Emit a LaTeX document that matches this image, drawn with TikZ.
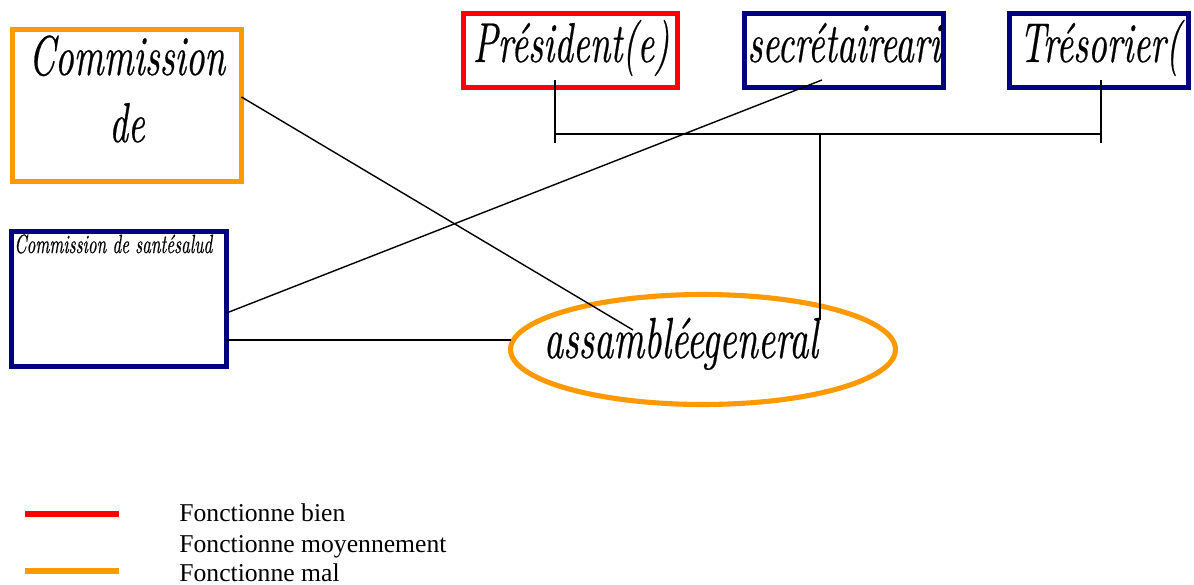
\documentclass[tikz,border=0pt]{standalone}
\usepackage{fontspec}
\setmainfont{Liberation Serif}
\newfontfamily\hand{lmroman10-italic.otf}[FakeStretch=0.65,FakeBold=0.4]
\usepackage{tikz}
\usetikzlibrary{calc,shapes.geometric}
\definecolor{orga}{RGB}{255,153,0}
\definecolor{navy}{RGB}{0,0,128}
\tikzset{
  box/.style={draw=#1, line width=2.9pt, inner sep=0pt, outer sep=0pt},
  conn/.style={line width=0.8pt},
  leg/.style={draw=#1, line width=3.2pt},
  big/.style={anchor=base, inner sep=0pt, font=\hand\fontsize{32}{38}\selectfont},
  legtext/.style={anchor=base west, inner sep=0pt, font=\fontsize{14.6}{17}\selectfont},
}

\begin{document}
\begin{tikzpicture}[x=0.02cm, y=-0.02cm]
\useasboundingbox (0,0) rectangle (1194,585);
% boxes
\node[box=orga, minimum width=4.58cm, minimum height=3.04cm] (com1) at (127,105.5) {};
\node[box=navy, minimum width=4.30cm, minimum height=2.70cm] (sante) at (119,299) {};
\node[box=red,  minimum width=4.28cm, minimum height=1.48cm] (pres) at (570.5,50.5) {};
\node[box=navy, minimum width=3.98cm, minimum height=1.48cm] (sec) at (844,50.5) {};
\node[box=navy, minimum width=3.58cm, minimum height=1.48cm] (tres) at (1099,50.5) {};
\node[box=orga, ellipse, minimum width=7.7cm, minimum height=2.2cm] (ag) at (703,349.5) {};
% texts
\node[big] (t-com) at (127,75) {Commission};
\node[big] (t-de) at (127,142) {de};
\node[anchor=base west, inner sep=0pt, font=\hand\fontsize{15}{18}\selectfont] (t-sante) at (14,253) {Commission de santésalud};
\begin{scope}
\clip (pres.south west) rectangle (pres.north east);
\node[big] (t-pres) at (571,62) {Président(e)};
\end{scope}
\begin{scope}
\clip (sec.south west) rectangle (sec.north east);
\node[big] (t-sec) at (844,62) {secrétaireari};
\end{scope}
\begin{scope}
\clip (tres.south west) rectangle (tres.north east);
\node[big] (t-tres) at (1100,62) {Trésorier(};
\end{scope}
\node[big, font=\hand\fontsize{33}{40}\selectfont] (t-ag) at (681,358) {assambléegeneral};
% connectors
\coordinate (ag-b) at (633,330);
\coordinate (sec-in) at (822,80);
\coordinate (pres-in) at (555,80);
\coordinate (tres-in) at (1101,80);
\coordinate (bar-l) at (555,134);
\coordinate (bar-r) at (1101,134);
\coordinate (bar-m) at (820,134);
\coordinate (ag-top) at (820,320);
\draw[conn] (com1.east |- 0,97) -- (ag-b);
\draw[conn] (sante.east |- 0,313) -- (sec-in);
\draw[conn] (sante.east |- 0,340) -- (ag.west |- 0,340);
\draw[conn] (pres-in) -- ++(0,63);
\draw[conn] (tres-in) -- ++(0,63);
\draw[conn] (bar-l) -- (bar-r);
\draw[conn] (bar-m) -- (ag-top);
% legend
\draw[leg=red] (25,514) -- (119,514);
\draw[leg=orga] (25,571) -- (119,571);
\node[legtext] (l-bien) at (179,521) {Fonctionne bien};
\node[legtext] (l-moy) at (179,552) {Fonctionne moyennement};
\node[legtext] (l-mal) at (179,581) {Fonctionne mal};
\end{tikzpicture}
\end{document}
